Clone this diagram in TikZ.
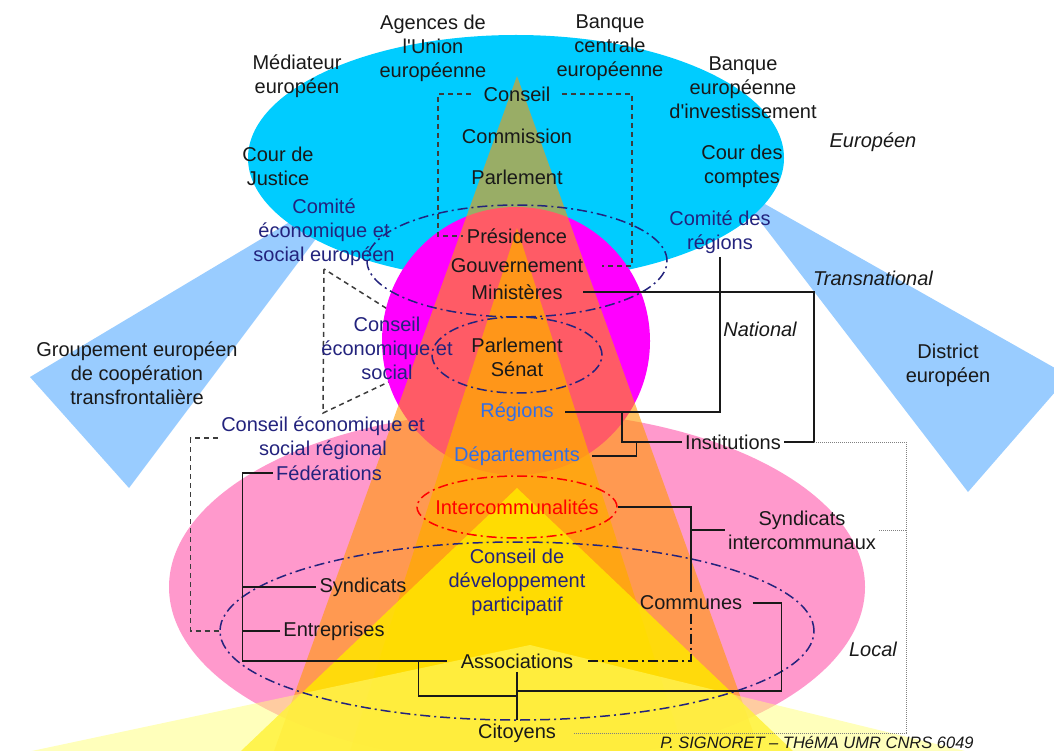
\documentclass[tikz,border=0pt]{standalone}
\usepackage{fontspec}
\setmainfont{Liberation Sans}
\usetikzlibrary{shapes.geometric, positioning, calc}

\definecolor{bleuciel}{RGB}{0,204,255}
\definecolor{bleupale}{RGB}{153,204,255}
\definecolor{rose}{RGB}{255,153,204}
\definecolor{fuchsia}{RGB}{255,0,255}
\definecolor{orangeA}{RGB}{255,153,0}
\definecolor{orangeB}{RGB}{255,170,0}
\definecolor{jauneA}{RGB}{255,230,0}
\definecolor{jauneB}{RGB}{255,255,120}
\definecolor{marine}{RGB}{35,35,125}
\definecolor{bleuterr}{RGB}{50,110,230}
\definecolor{noir}{RGB}{25,25,25}

\pgfdeclarelayer{fond}
\pgfdeclarelayer{liens}
\pgfdeclarelayer{voile}
\pgfsetlayers{fond,liens,voile,main}

\begin{document}
\begin{tikzpicture}[x=1pt, y=-1pt,
  txt/.style={font=\fontsize{20}{24}\selectfont, align=center, text=noir},
  bleu/.style={txt, text=marine},
  terr/.style={txt, text=bleuterr},
  niveau/.style={font=\fontsize{20}{24}\selectfont\itshape, text=noir},
  trait/.style={line width=1.5pt, draw=noir},
  tirets/.style={line width=1.5pt, draw=noir!85, dash pattern=on 5pt off 4pt},
  tiretpoint/.style={line width=1.5pt, dash pattern=on 10pt off 4pt on 2pt off 4pt},
  pointilles/.style={line width=1pt, draw=gray, dash pattern=on 1pt off 1pt},
  ovale/.style={ellipse, inner sep=0pt, tiretpoint, draw=marine}]
  \useasboundingbox (0,0) rectangle (1054,751);

  % 背景の形
  \begin{pgfonlayer}{fond}
    \fill[bleupale] (360,180) -- (30,377) -- (129,488) -- cycle;
    \fill[bleupale] (733,186) -- (1069,376) -- (968,492) -- cycle;
    \fill[bleuciel] (516,158) ellipse [x radius=268, y radius=123];
    \fill[rose] (517,587) ellipse [x radius=348, y radius=176];
  \end{pgfonlayer}
  \begin{pgfonlayer}{voile}
    \fill[fuchsia] (516,341) circle [radius=134];
    \fill[orangeA, fill opacity=0.6] (517,76) -- (274,751) -- (760,751) -- cycle;
    \fill[orangeB, fill opacity=0.75] (517,228) -- (350,751) -- (684,751) -- cycle;
    \fill[jauneA, fill opacity=0.85] (517,488) -- (241,751) -- (793,751) -- cycle;
    \fill[jauneB, fill opacity=0.5] (530,645) -- (-20,762) -- (1010,762) -- cycle;
  \end{pgfonlayer}

  % 欧州レベル
  \node[txt] (agences) at (433,48) {Agences de\\l\textquotesingle Union\\européenne};
  \node[txt] (bce) at (610,48) {Banque\\centrale\\européenne};
  \node[txt] (mediateur) at (297,76) {Médiateur\\européen};
  \node[txt] (bei) at (743,88) {Banque\\européenne\\d\textquotesingle investissement};
  \node[txt] (cjue) at (278,166) {Cour de\\Justice};
  \node[txt] (cdc) at (742,166) {Cour des\\comptes};
  \node[txt] (conseil) at (517,94) {Conseil};
  \node[txt] (commission) at (517,136) {Commission};
  \node[txt] (parleur) at (517,177) {Parlement};
  \node[bleu] (cese) at (324,232) {Comité\\économique et\\social européen};
  \node[bleu] (cdr) at (720,232) {Comité des\\régions};
  \node[niveau] (europeen) at (873,142) {Européen};
  \node[niveau] (transnat) at (873,278) {Transnational};
  \node[niveau] (national) at (760,329) {National};
  \node[niveau] (local) at (873,649) {Local};

  % 国レベル
  \node[txt] (presid) at (517,236) {Présidence};
  \node[txt] (gouv) at (517,266) {Gouvernement};
  \node[txt] (minist) at (517,292) {Ministères};
  \node[ovale, minimum width=300, minimum height=112] (ovexec) at (517,261) {};
  \node[txt] (parlsen) at (517,357) {Parlement\\Sénat};
  \node[ovale, minimum width=170, minimum height=76] (ovparl) at (517,355) {};
  \node[bleu] (ces) at (387,348) {Conseil\\économique et\\social};
  \node[txt] (groupement) at (137,373) {Groupement européen\\de coopération\\transfrontalière};
  \node[txt] (district) at (948,365) {District\\européen};
  \node[terr] (regions) at (517,412) {Régions};
  \node[terr] (depts) at (517,456) {Départements};
  \node[bleu] (cesr) at (323,438) {Conseil économique et\\social régional};
  \node[txt] (inst) at (733,442) {Institutions};

  % 地方レベル
  \node[ovale, draw=red, minimum width=200, minimum height=62] (ovinter) at (517,507) {};
  \node[txt, text=red] (interco) at (517,507) {Intercommunalités};
  \node[bleu] (feder) at (329,473) {Fédérations};
  \node[txt] (syndint) at (802,530) {Syndicats\\intercommunaux};
  \node[bleu] (cdp) at (517,582) {Conseil de\\développement\\participatif};
  \node[txt] (synd) at (363,587) {Syndicats};
  \node[txt] (communes) at (691,603) {Communes};
  \node[txt] (entr) at (334,631) {Entreprises};
  \node[ovale, minimum width=594, minimum height=178] (ovlocal) at (517,631) {};
  \node[txt] (assoc) at (517,661) {Associations};
  \node[txt] (citoyens) at (517,733) {Citoyens};
  \node[font=\fontsize{16.5}{18}\selectfont\itshape, text=noir] (credit) at (817,742) {P. SIGNORET – THéMA UMR CNRS 6049};

  % 国の接続線
  \draw[tirets] ([xshift=-9]conseil.west) -- ++(-33,0) |- (presid.west);
  \draw[tirets] ([xshift=8]conseil.east) -- ++(70,0) |- ([xshift=15]gouv.east);
  \coordinate (cessommet) at (454,351);
  \begin{pgfonlayer}{liens}
    \draw[tirets] (cese.south) -- (cesr.north) -- (cessommet) -- cycle;
  \end{pgfonlayer}
  \draw[tirets] (cesr.west) -- ++(-27,0) |- (ovlocal.west);
  \draw[trait] ([xshift=17]minist.east) -- ++(231,0) coordinate (natcoin) |- (inst.east);
  \draw[trait] (cdr.south) |- ([xshift=8]regions.east);
  \draw[trait] ([xshift=8]regions.east) ++(57,0) |- (inst.west);
  \draw[trait] ([xshift=9]depts.east) -- ++(44,0) |- (inst.west);

  % 地方の接続線
  \draw[trait] (ovinter.east) -| (communes.north);
  \draw[trait] (syndint.west) -- (syndint.west -| communes.north);
  \draw[trait, tiretpoint] (communes.south) |- ([xshift=11]assoc.east);
  \draw[trait] (feder.west) -- ++(-30,0) coordinate (ftronc) -- (ftronc |- assoc.west) -- ([xshift=-10]assoc.west);
  \draw[trait] (synd.west) -- (synd.west -| ftronc);
  \draw[trait] (entr.west) -- (entr.west -| ftronc);
  \draw[trait] (assoc.south) -- (citoyens.north);
  \coordinate (jgauche) at ($(assoc.south)!0.5!(citoyens.north)$);
  \coordinate (jdroite) at ($(assoc.south)!0.4!(citoyens.north)$);
  \draw[trait] (ftronc |- assoc.west) ++(176,0) |- (jgauche);
  \draw[trait] ([xshift=7]communes.east) -- ++(29,0) |- (jdroite);

  % 点線
  \draw[pointilles] (natcoin |- inst.east) -- ++(92,0) coordinate (pcoin) |- ([xshift=15]citoyens.east);
  \draw[pointilles] (syndint.east) -- (syndint.east -| pcoin);
\end{tikzpicture}
\end{document}
